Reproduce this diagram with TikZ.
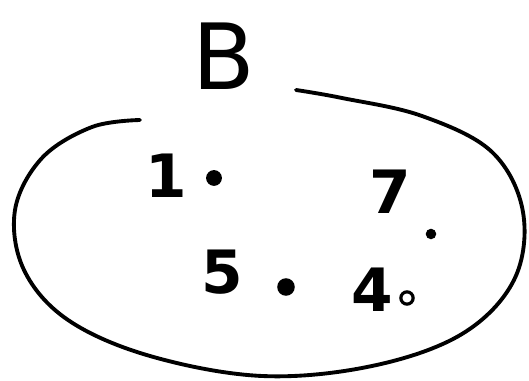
\documentclass[tikz,border=0pt]{standalone}
\usepackage{fontspec}
\setmainfont{DejaVu Sans}
\usepackage{tikz}
\usetikzlibrary{positioning}
\tikzset{elem/.style={font=\fontsize{34}{34}\selectfont\bfseries},
  dotmark/.style={circle,fill=black,inner sep=0pt}}

\begin{document}
\begin{tikzpicture}[x=0.02cm,y=-0.02cm,line width=2.2pt,line cap=round]
\useasboundingbox (0,0) rectangle (529,381);
\node[font=\fontsize{52}{52}\selectfont] (setB) at (224,56) {B};
\draw plot[smooth,tension=0.6] coordinates {(140,120) (92,127) (42,158) (15,210) (24,270) (68,320) (150,356) (262,376) (372,366) (462,334) (514,280) (523,212) (492,152) (422,116) (342,98) (296,90)};
\node[elem] (one) at (166,176) {1};
\node[dotmark,minimum size=9pt] (d1) at (214,178) {};
\node[elem] (seven) at (390,192) {7};
\node[dotmark,minimum size=6pt] (d7) at (431,234) {};
\node[elem] (five) at (222,272) {5};
\node[dotmark,minimum size=10pt] (d5) at (286,287) {};
\node[elem] (four) at (372,290) {4};
\node[circle,draw,line width=1.8pt,minimum size=7pt,inner sep=0pt] (d4) at (407,298) {};
\end{tikzpicture}
\end{document}
